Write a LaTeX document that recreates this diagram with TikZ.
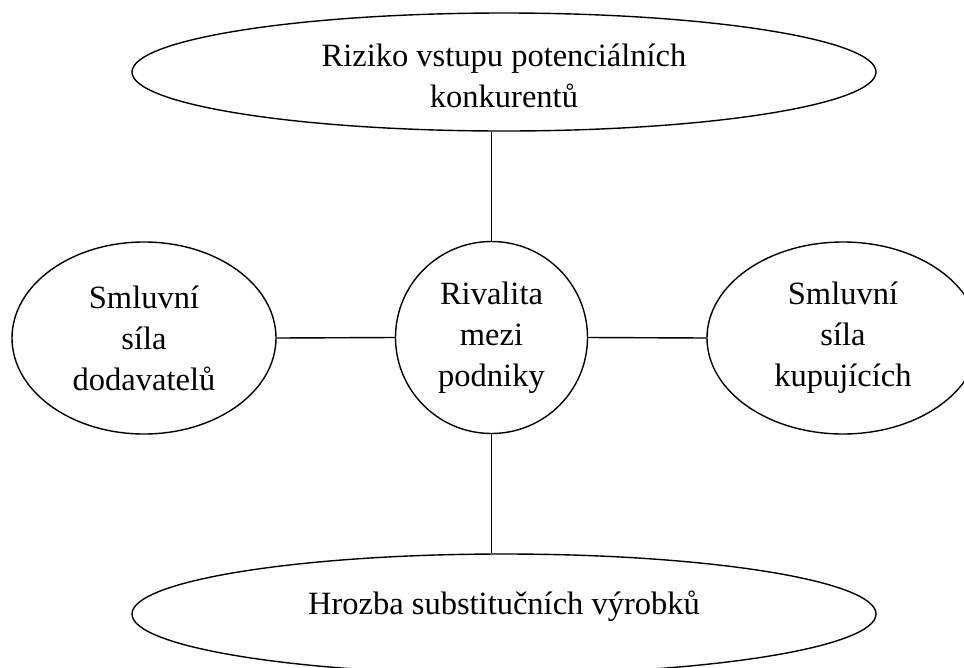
\documentclass[tikz,border=0pt]{standalone}
\usepackage{fontspec}
\setmainfont{Liberation Serif}
\usetikzlibrary{shapes.geometric}
\begin{document}
\begin{tikzpicture}[x=1pt,y=-1pt,
  txt/.style={inner sep=0pt, align=center, font=\fontsize{32.5}{41}\selectfont},
  shapebox/.style={txt, draw, line width=1.4pt},
  ell/.style={shapebox, ellipse},
  conn/.style={line width=1.4pt}]
\useasboundingbox (0,0) rectangle (964,667);
\node[ell, minimum width=744pt, minimum height=118pt] (top) at (504,72) {};
\node[txt] (toptxt) at (504,76) {Riziko vstupu potenciálních\\konkurentů};
\node[shapebox, circle, minimum size=192pt] (mid) at (491.5,337.5)
  {Rivalita\\mezi\\podniky};
\node[ell, minimum width=264pt, minimum height=192pt] (left) at (144,338)
  {Smluvní\\síla\\dodavatelů};
\node[ell, minimum width=272pt, minimum height=192pt] (right) at (843,338)
  {Smluvní\\síla\\kupujících};
\node[ell, minimum width=744pt, minimum height=120pt] (bot) at (504,614) {};
\node[txt] (bottxt) at (504,606) {Hrozba substitučních výrobků};
\draw[conn] (mid.north) -- (mid.north |- top.south);
\draw[conn] (mid.south) -- (mid.south |- bot.north);
\draw[conn] (left.east) -- (mid.west);
\draw[conn] (mid.east) -- (right.west);
\end{tikzpicture}
\end{document}
